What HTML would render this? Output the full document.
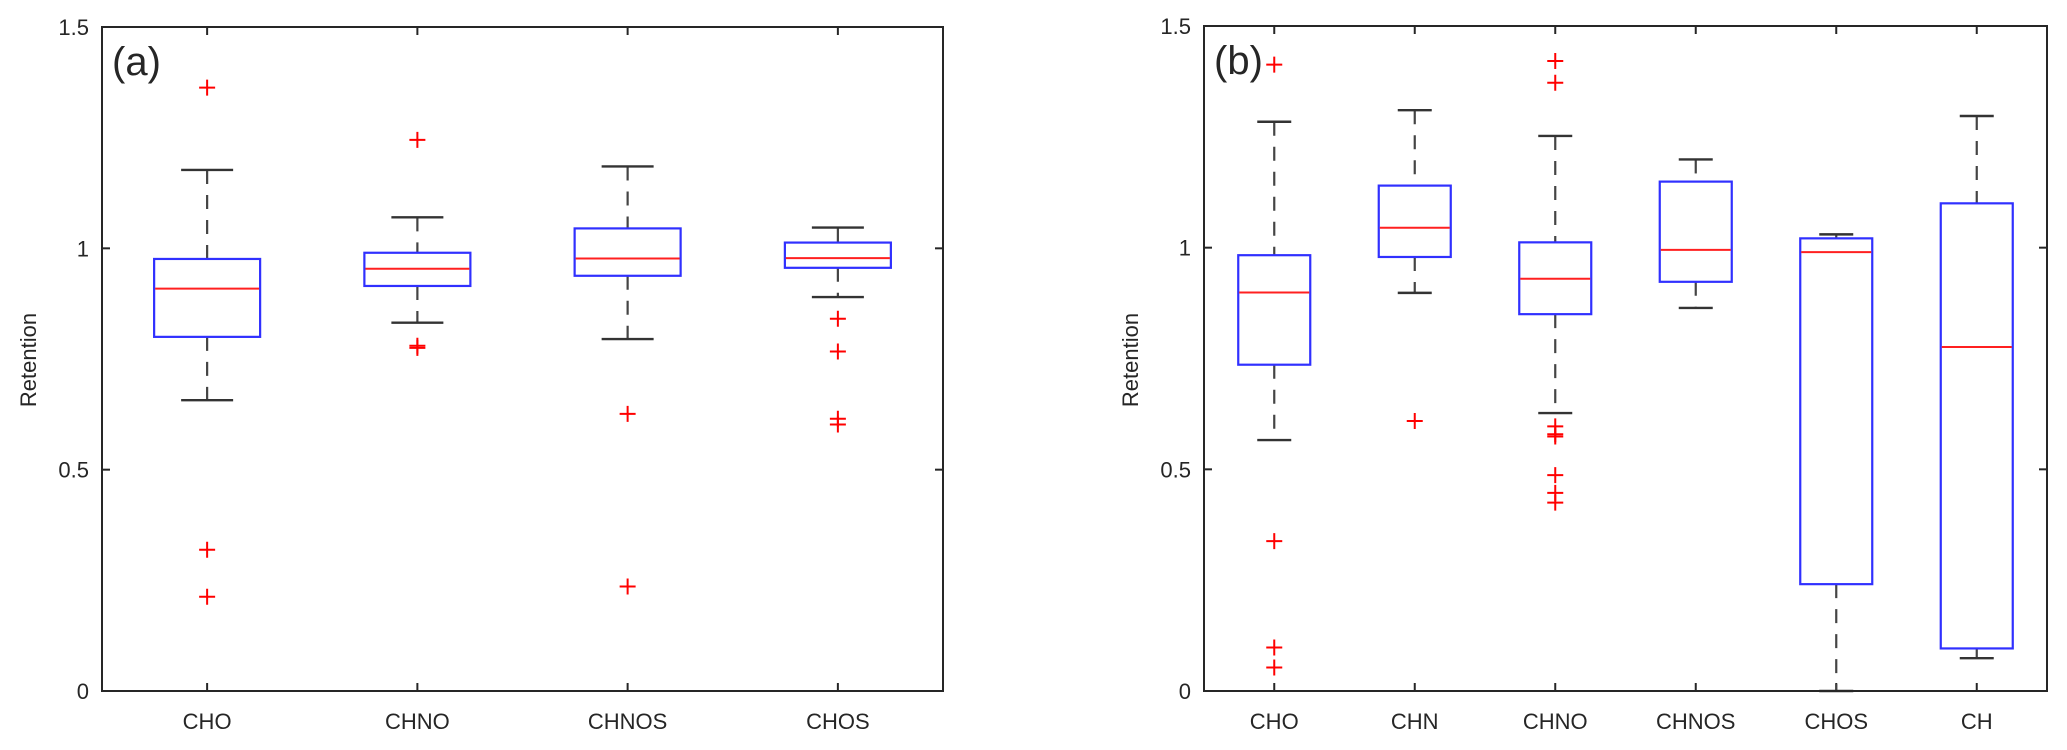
<!DOCTYPE html>
<html><head><meta charset="utf-8"><style>
html,body{margin:0;padding:0;background:#fff}
svg{display:block}
text{font-family:"Liberation Sans",Arial,sans-serif;fill:#262626}
</style></head><body>
<svg id="chart" width="2067" height="750" viewBox="0 0 2067 750" xmlns="http://www.w3.org/2000/svg"></svg>
<script>
// Panel (a) data
const catsA = ["CHO","CHNO","CHNOS","CHOS"];
const whiskHiA = [1.177,1.070,1.185,1.047];
const q3A = [0.976,0.990,1.045,1.013];
const medA = [0.909,0.954,0.977,0.978];
const q1A = [0.800,0.915,0.938,0.956];
const whiskLoA = [0.657,0.832,0.795,0.890];
const outA = [[1.363,0.319,0.213],[1.245,0.780,0.775],[0.626,0.236],[0.841,0.767,0.615,0.602]];
// Panel (b) data
const catsB = ["CHO","CHN","CHNO","CHNOS","CHOS","CH"];
const whiskHiB = [1.284,1.310,1.252,1.199,1.030,1.297];
const q3B = [0.983,1.140,1.012,1.149,1.021,1.100];
const medB = [0.899,1.045,0.930,0.995,0.990,0.776];
const q1B = [0.736,0.979,0.850,0.923,0.241,0.096];
const whiskLoB = [0.566,0.898,0.627,0.864,0.0,0.074];
const outB = [[1.413,0.338,0.098,0.053],[0.609],[1.421,1.372,0.597,0.579,0.574,0.487,0.447,0.425],[],[],[]];
const yTicks = [0,0.5,1,1.5];
const yTickLabels = ["0","0.5","1","1.5"];

const NS="http://www.w3.org/2000/svg";
const svg=document.getElementById('chart');
function mk(tag,attrs,parent){const e=document.createElementNS(NS,tag);for(const k in attrs)e.setAttribute(k,attrs[k]);(parent||svg).appendChild(e);return e;}

function panel(cfg){
  const {x0,x1,y0,y1,cats,hi,q3,med,q1,lo,outs,label,name,boxHalf,capHalf}=cfg;
  const g=mk('g',{});
  
  
  const yS=v=>y1-(v/1.5)*(y1-y0);
  const step=(x1-x0)/cats.length;
  const xS=i=>x0+step*(i+0.5);
  yTicks.forEach((t,i)=>{
    const y=yS(t);
    const tl=mk('line',{x1:x0,x2:x0+8,y1:y,y2:y,stroke:'#262626','stroke-width':2},g);
    
    
    const tr=mk('line',{x1:x1-8,x2:x1,y1:y,y2:y,stroke:'#262626','stroke-width':2},g);
    
    
    const lab=mk('text',{x:x0-13,y:y+8,'text-anchor':'end','font-size':22},g);
    lab.textContent=yTickLabels[i];
    
    
  });
  cats.forEach((c,i)=>{
    const x=xS(i);
    const tb=mk('line',{x1:x,x2:x,y1:y1,y2:y1-8,stroke:'#262626','stroke-width':2},g);
    
    
    const tt=mk('line',{x1:x,x2:x,y1:y0,y2:y0+8,stroke:'#262626','stroke-width':2},g);
    
    
    const lab=mk('text',{x:x,y:y1+38,'text-anchor':'middle','font-size':22},g);
    lab.textContent=c;
    
    
    const wu=mk('line',{x1:x,x2:x,y1:yS(hi[i]),y2:yS(q3[i]),stroke:'#444','stroke-width':2.2,'stroke-dasharray':'14,11'},g);
    
    
    const wl=mk('line',{x1:x,x2:x,y1:yS(q1[i]),y2:yS(lo[i]),stroke:'#444','stroke-width':2.2,'stroke-dasharray':'14,11'},g);
    
    
    const cu=mk('line',{x1:x-capHalf,x2:x+capHalf,y1:yS(hi[i]),y2:yS(hi[i]),stroke:'#333','stroke-width':2.4},g);
    
    
    const cl=mk('line',{x1:x-capHalf,x2:x+capHalf,y1:yS(lo[i]),y2:yS(lo[i]),stroke:'#333','stroke-width':2.4},g);
    
    
    const box=mk('rect',{x:x-boxHalf,y:yS(q3[i]),width:boxHalf*2,height:yS(q1[i])-yS(q3[i]),fill:'#fff',stroke:'#3030ff','stroke-width':2.2},g);
    
    
    const m=mk('line',{x1:x-boxHalf+1,x2:x+boxHalf-1,y1:yS(med[i]),y2:yS(med[i]),stroke:'#ff2020','stroke-width':2},g);
    
    
    outs[i].forEach(v=>{
      const y=yS(v);
      const p=mk('path',{d:`M${x-8},${y}H${x+8}M${x},${y-8}V${y+8}`,stroke:'#ff0000','stroke-width':2,fill:'none'},g);
      
      
    });
  });
  const frame=mk('rect',{x:x0,y:y0,width:x1-x0,height:y1-y0,fill:'none',stroke:'#262626','stroke-width':2},g);
  
  
  const pl=mk('text',{x:x0+10,y:y0+48,'font-size':40,fill:'#000'},g);
  pl.textContent=label;
  
  
  const yl=mk('text',{x:0,y:0,'text-anchor':'middle','font-size':22,transform:`translate(${cfg.ylx},360) rotate(-90)`},g);
  yl.textContent='Retention';
  
  
}
panel({x0:102,x1:943,y0:27,y1:691,cats:catsA,hi:whiskHiA,q3:q3A,med:medA,q1:q1A,lo:whiskLoA,outs:outA,label:'(a)',name:'panel-a',boxHalf:53,capHalf:26,ylx:36});
panel({x0:1204,x1:2047,y0:26,y1:691,cats:catsB,hi:whiskHiB,q3:q3B,med:medB,q1:q1B,lo:whiskLoB,outs:outB,label:'(b)',name:'panel-b',boxHalf:36,capHalf:17,ylx:1138});
</script>
</body></html>
